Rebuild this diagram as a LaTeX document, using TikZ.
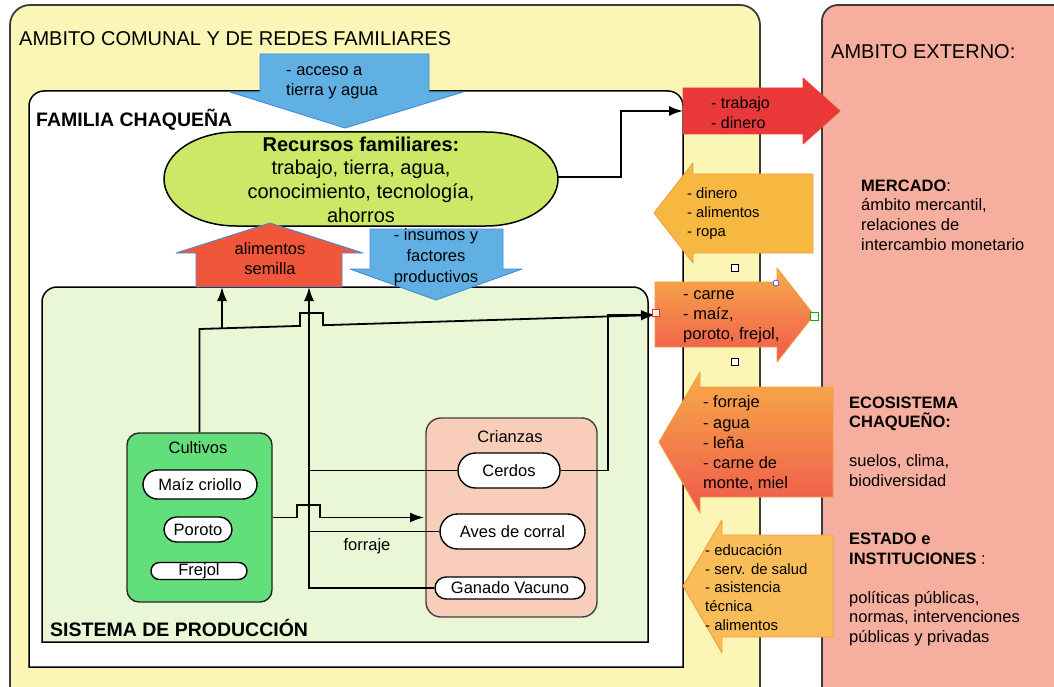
\documentclass[tikz,border=0pt]{standalone}
\usepackage{fontspec}
\setmainfont{Liberation Sans}
\usetikzlibrary{arrows.meta}
\newcommand\setfs[2]{\fontsize{#1}{#2}\selectfont}

\definecolor{comunalY}{RGB}{251,245,182}
\definecolor{externoP}{RGB}{246,174,158}
\definecolor{sistemaG}{RGB}{234,247,214}
\definecolor{recursosG}{RGB}{205,232,102}
\definecolor{cultivosG}{RGB}{98,223,122}
\definecolor{crianzasP}{RGB}{248,206,186}
\definecolor{flowBlue}{RGB}{96,176,228}
\definecolor{flowBlueEdge}{RGB}{66,140,214}
\definecolor{alimRed}{RGB}{240,86,58}
\definecolor{trabRed}{RGB}{234,56,58}
\definecolor{dineroO}{RGB}{247,184,66}
\definecolor{estadoO}{RGB}{248,188,88}
\definecolor{orangeEdge}{RGB}{242,158,60}
\definecolor{gradTop}{RGB}{247,172,72}
\definecolor{gradBot}{RGB}{239,88,76}
\definecolor{frameGray}{RGB}{60,60,60}

\begin{document}
\begin{tikzpicture}[x=1pt,y=-1pt,
  every node/.style={inner sep=0pt},
  lbl/.style={font=\setfs{16.5}{20.5}},
  pill/.style={draw=black, line width=1.4pt, fill=white, rounded corners=#1, lbl},
  group/.style={draw=black!85, line width=1.4pt, rounded corners=#1},
  link/.style={line width=1.8pt, draw=black, line join=miter},
  flow/.style={link, -{Latex[length=14pt,width=10pt]}},
  handle/.style={draw=black, fill=white, line width=0.7pt, minimum size=7pt},
  bigarrow/.style={line width=0.9pt, line join=round},
  note/.style={anchor=west, align=left},
  pinktext/.style={note, font=\setfs{16.5}{19.7}},
]
\useasboundingbox (0,0) rectangle (1054,687);
\fill[white] (0,0) rectangle (1054,687);
\clip (0,0) rectangle (1054,687);

% outer areas
\draw[fill=comunalY, draw=frameGray, line width=1.8pt, rounded corners=20pt]
  (10,5) rectangle (760,730);
\draw[fill=externoP, draw=frameGray, line width=1.8pt, rounded corners=16pt]
  (822,5) rectangle (1100,730);

% family box and production system (rounded on top only)
\draw[fill=white, draw=black, line width=1.5pt]
  (29,667) -- (29,106) arc[start angle=180,end angle=270,radius=15]
  -- (668,91) arc[start angle=270,end angle=360,radius=15] -- (683,667) -- cycle;
\draw[fill=sistemaG, draw=black, line width=1.5pt]
  (42,642) -- (42,302) arc[start angle=180,end angle=270,radius=15]
  -- (633,287) arc[start angle=270,end angle=360,radius=15] -- (648,642) -- cycle;

% crops and livestock groups
\node[group=12pt, fill=cultivosG, minimum width=145pt, minimum height=169pt] (cultivos) at (199.5,517.5) {};
\node[lbl] (cultivosLbl) at (198,448) {Cultivos};
\node[group=15pt, draw=black!75, fill=crianzasP, minimum width=171pt, minimum height=199pt] (crianzas) at (511.5,517.5) {};
\node[lbl] (crianzasLbl) at (510,437) {Crianzas};

\node[pill=14.5pt, minimum width=114pt, minimum height=29pt] (maiz) at (200,484.5) {Maíz criollo};
\node[pill=12.5pt, minimum width=68pt, minimum height=25pt] (poroto) at (198,529.5) {Poroto};
\node[pill=8.5pt, minimum width=96pt, minimum height=17pt] (frejol) at (199,571) {Frejol};
\node[pill=17.5pt, minimum width=102pt, minimum height=35pt] (cerdos) at (509,470.5) {Cerdos};
\node[pill=17.5pt, minimum width=145pt, minimum height=35pt] (aves) at (512.5,531.5) {Aves de corral};
\node[pill=11pt, minimum width=150pt, minimum height=22pt] (ganado) at (510,588) {Ganado Vacuno};

% connector end points
\coordinate (alimL) at (222,287);
\coordinate (alimR) at (309,287);
\coordinate (carneIn) at (655,315);
\coordinate (avesIn) at (424,517.5);
\coordinate (recursosE) at (558,177);
\coordinate (trabajoIn) at (683,111);

% flows inside the production system
\draw[flow] (cultivos.north) -- (199.5,329) -- (300,325.9) -- (300,313) -- (323,313) -- (323,325.2) -- (carneIn);
\draw[flow] (222,328.3) -- (alimL);
\draw[flow] (ganado.west) -| (alimR);
\draw[link] (cerdos.west) -- (cerdos.west -| alimR);
\draw[link] (aves.west) -- (aves.west -| alimR);
\draw[flow] (cerdos.east) -| (608,315) -- (carneIn);
\draw[flow] (cultivos.east) -- (297,517.5) -- (297,505) -- (320,505) -- (320,517.5) -- (avesIn);
\node[lbl] (forraje) at (367,546) {forraje};

% inputs to the production system
\draw[bigarrow, fill=flowBlue, draw=flowBlueEdge]
  (370,229) -- (503,229) -- (503,269) -- (522,269) -- (436,300) -- (350,269) -- (370,269) -- cycle;
\node[lbl, align=center, font=\setfs{16.5}{21}] (insumos) at (436,257) {- insumos y\\factores\\productivos};

% family resources
\draw[fill=recursosG, draw=black, line width=1.5pt]
  (236,132) -- (486,132) arc[start angle=-90,end angle=90,x radius=72,y radius=47]
  -- (236,226) arc[start angle=90,end angle=270,x radius=72,y radius=47] -- cycle;
\node[align=center, font=\setfs{20}{23.6}] (recursos) at (361,179.5)
  {\textbf{Recursos familiares:}\\trabajo, tierra, agua,\\conocimiento, tecnología,\\ahorros};

% access to land and water
\draw[bigarrow, fill=flowBlue, draw=flowBlueEdge]
  (260,54) -- (429,54) -- (429,92) -- (463,92) -- (345,128) -- (230,92) -- (260,92) -- cycle;
\node[note, lbl] (acceso) at (286,83) {- acceso a\\tierra y agua};

% food and seed back to the family
\draw[bigarrow, fill=alimRed, draw=flowBlueEdge]
  (196,287) -- (196,253) -- (176,253) -- (270,223) -- (363,253) -- (342,253) -- (342,287) -- cycle;
\node[lbl, align=center] (alimentos) at (270,258.5) {alimentos\\semilla};

\draw[flow] (recursosE) -- (621,177) -- (621,111) -- (trabajoIn);

% exchanges with the outside
\draw[bigarrow, fill=trabRed, draw=trabRed!85!orange]
  (683,88) -- (803,88) -- (803,78) -- (840,111) -- (803,144) -- (803,134) -- (683,134) -- cycle;
\node[note, font=\setfs{16}{20}] (trabajo) at (711,113) {- trabajo\\- dinero};

\draw[bigarrow, fill=dineroO, draw=orangeEdge]
  (813,174) -- (693,174) -- (693,163) -- (654,213) -- (693,263) -- (693,253) -- (813,253) -- cycle;
\node[note, font=\setfs{14.8}{18.7}] (dinero) at (687,213.5) {- dinero\\- alimentos\\- ropa};

\draw[bigarrow, top color=gradTop, bottom color=gradBot, draw=orangeEdge]
  (655,282) -- (777,282) -- (777,268) -- (814,315) -- (777,362) -- (777,347) -- (655,347) -- cycle;
\node[note, font=\setfs{16.5}{20}] (carne) at (683,317) {- carne\\- maíz,\\poroto, frejol,};

\draw[bigarrow, top color=gradTop, bottom color=gradBot, draw=orangeEdge]
  (833,387) -- (700,387) -- (700,372) -- (659,442) -- (700,513) -- (700,497) -- (833,497) -- cycle;
\node[note, font=\setfs{16.4}{20.2}] (ecoflujo) at (703,443.5) {- forraje\\- agua\\- leña\\- carne de\\monte, miel};

\draw[bigarrow, fill=estadoO, draw=orangeEdge]
  (833,535) -- (722,535) -- (722,520) -- (683,586) -- (722,653) -- (722,637) -- (833,637) -- cycle;
\node[note, font=\setfs{14.9}{18.8}] (estadoflujo) at (705,587.5) {- educación\\- serv. de salud\\- asistencia\\técnica\\- alimentos};

% selection handles
\node[handle] (hA) at (735,268) {};
\node[handle] (hB) at (735,362) {};
\node[circle, draw=blue!70, fill=white, line width=0.8pt, minimum size=6pt] (hC) at (776,283) {};
\node[handle, draw=red!70!orange] (hD) at (656,313) {};
\node[handle, draw=green!70!black, minimum size=8pt] (hE) at (814,316) {};

% titles
\node[anchor=base west, font=\setfs{20}{24}] (comunal) at (19,46) {AMBITO COMUNAL Y DE REDES FAMILIARES};
\node[anchor=base west, font=\setfs{20}{24}] (externo) at (831,59) {AMBITO EXTERNO:};
\node[anchor=base west, font=\setfs{19.5}{24}\bfseries] (familia) at (36,127) {FAMILIA CHAQUEÑA};
\node[anchor=base west, font=\setfs{19.5}{24}\bfseries] (sistema) at (50,636) {SISTEMA DE PRODUCCIÓN};

% outside actors
\node[pinktext] (mercado) at (861,215) {\textbf{MERCADO}:\\ámbito mercantil,\\relaciones de\\intercambio monetario};
\node[pinktext] (ecosistema) at (849,441.5) {\textbf{ECOSISTEMA}\\\textbf{CHAQUEÑO:}\\[19pt]suelos, clima,\\biodiversidad};
\node[pinktext] (estado) at (849,589.5) {\textbf{ESTADO e}\\\textbf{INSTITUCIONES} :\\[19pt]políticas públicas,\\normas, intervenciones\\públicas y privadas};
\end{tikzpicture}
\end{document}
